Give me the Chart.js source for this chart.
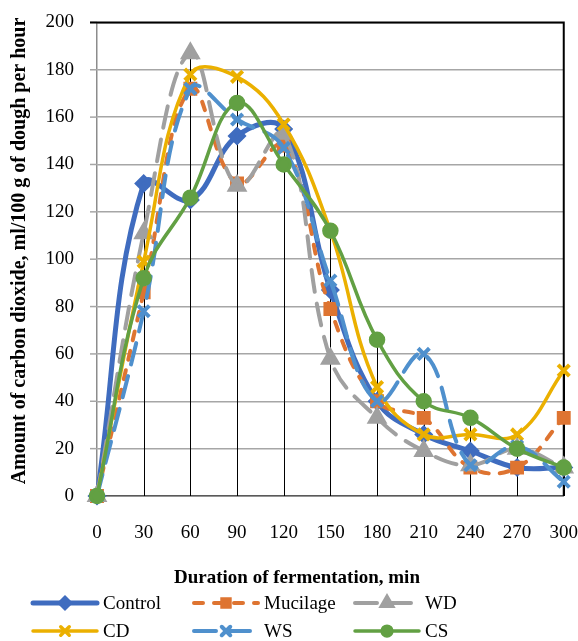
<!DOCTYPE html>
<html>
<head>
<meta charset="utf-8">
<script src="https://cdn.jsdelivr.net/npm/chart.js@4.4.1/dist/chart.umd.min.js"></script>
<style>
  html, body { margin: 0; padding: 0; background: #fff; }
  canvas { display: block; }
</style>
</head>
<body>
<canvas id="chart" width="578" height="641"></canvas>
<script>
  // fermentation time, min
  const times = [0, 30, 60, 90, 120, 150, 180, 210, 240, 270, 300];

  // CO2, ml/100 g dough per hour
  const control  = [0, 132, 125, 152, 155, 87, 40, 26, 19, 12, 12];
  const mucilage = [0, 86, 172, 132, 148, 79, 40, 33, 12, 12, 33];
  const wd       = [0, 111, 187, 131, 153, 58, 33, 19, 13, 20, 12];
  const cd       = [0, 99, 178, 177, 157, 112, 46, 26, 26, 26, 53];
  const ws       = [0, 78, 172, 159, 147, 91, 40, 60, 13, 21, 6];
  const cs       = [0, 92, 126, 166, 140, 112, 66, 40, 33, 20, 12];

  const xTitle = "Duration of fermentation, min";
  const yTitle = "Amount of carbon dioxide, ml/100 g of dough per hour";

  const FONT = "'Liberation Serif', 'Times New Roman', serif";
  const allSeries = [control, mucilage, wd, cd, ws, cs];
  const NONE = "rgba(0,0,0,0)";

  function series(label, values, color, opts) {
    return Object.assign({
      label: label,
      data: times.map((t, i) => ({ x: t, y: values[i] })),
      borderColor: color,
      backgroundColor: color,
      pointBackgroundColor: color,
      pointBorderColor: color,
      tension: 0.4,
      fill: false,
      borderCapStyle: "round",
      borderJoinStyle: "round",
      clip: 12,
    }, opts);
  }

  // y tick marks, drop lines, black plot frame
  const frame = {
    id: "frame",
    beforeDatasetsDraw(chart) {
      const { ctx, chartArea: a, scales } = chart;
      ctx.save();
      ctx.strokeStyle = "#A6A6A6";
      ctx.lineWidth = 1.5;
      scales.y.ticks.forEach((tk) => {
        const py = scales.y.getPixelForValue(tk.value);
        ctx.beginPath();
        ctx.moveTo(a.left - 7, py);
        ctx.lineTo(a.left, py);
        ctx.stroke();
      });
      ctx.strokeStyle = "#000";
      ctx.lineWidth = 1;
      times.forEach((t, i) => {
        const top = Math.max(...allSeries.map((s) => s[i]));
        if (top <= 0) return;
        const px = Math.round(scales.x.getPixelForValue(t)) + 0.5;
        ctx.beginPath();
        ctx.moveTo(px, scales.y.getPixelForValue(top));
        ctx.lineTo(px, a.bottom);
        ctx.stroke();
      });
      ctx.lineWidth = 2;
      ctx.beginPath();
      ctx.moveTo(a.left - 7, a.top);
      ctx.lineTo(a.right, a.top);
      ctx.lineTo(a.right, a.bottom);
      ctx.stroke();
      ctx.restore();
    },
  };

  // axis titles + legend in 3 columns x 2 rows
  const legendCols = [33, 194, 355];
  const legendRows = [38, 10]; // distance from canvas bottom
  const sheetLegend = {
    id: "sheetLegend",
    afterDraw(chart) {
      const ctx = chart.ctx;
      ctx.save();
      ctx.fillStyle = "#000";
      ctx.font = "bold 19px " + FONT;
      ctx.textAlign = "center";
      ctx.textBaseline = "middle";
      ctx.fillText(xTitle, 297, chart.height - 63);
      ctx.font = "bold 20px " + FONT;
      ctx.translate(20, 251);
      ctx.rotate(-Math.PI / 2);
      ctx.fillText(yTitle, 0, 0);
      ctx.restore();

      chart.data.datasets.forEach((ds, i) => {
        const x0 = legendCols[i % 3];
        const y0 = chart.height - legendRows[Math.floor(i / 3)];
        ctx.save();
        ctx.strokeStyle = ds.borderColor;
        ctx.lineWidth = ds.borderWidth;
        ctx.lineCap = "round";
        ctx.setLineDash(ds.borderDash || []);
        ctx.beginPath();
        ctx.moveTo(x0, y0);
        ctx.lineTo(x0 + 64, y0);
        ctx.stroke();
        ctx.setLineDash([]);
        ctx.fillStyle = ds.borderColor;
        ctx.strokeStyle = ds.borderColor;
        Chart.helpers.drawPoint(ctx, {
          pointStyle: ds.pointStyle,
          radius: ds.pointRadius * 0.75,
          borderWidth: ds.pointBorderWidth || 1,
          rotation: 0,
        }, x0 + 32, y0);
        ctx.fillStyle = "#000";
        ctx.font = "19px " + FONT;
        ctx.textBaseline = "middle";
        ctx.fillText(ds.label, x0 + 70, y0 + 1);
        ctx.restore();
      });
    },
  };

  new Chart(document.getElementById("chart"), {
    type: "line",
    data: {
      datasets: [
        series("Control", control, "#3F6CBF", { borderWidth: 5, pointStyle: "rectRot", pointRadius: 6, order: 6 }),
        series("Mucilage", mucilage, "#DE7431", { borderWidth: 4, borderDash: [9, 11], pointStyle: "rect", pointRadius: 7, order: 5 }),
        series("WD", wd, "#A0A0A0", { borderWidth: 4, borderDash: [22, 12], pointStyle: "triangle", pointRadius: 8, order: 4 }),
        series("CD", cd, "#EBB000", { borderWidth: 3.5, pointStyle: "crossRot", pointRadius: 8, pointBorderWidth: 4, order: 3 }),
        series("WS", ws, "#4F90CD", { borderWidth: 4, borderDash: [22, 12], pointStyle: "crossRot", pointRadius: 8, pointBorderWidth: 4, order: 2 }),
        series("CS", cs, "#62A043", { borderWidth: 3.5, pointStyle: "circle", pointRadius: 6.5, order: 1 }),
      ],
    },
    options: {
      responsive: false,
      animation: false,
      layout: { padding: { left: 0, right: 0, top: 22, bottom: 52 } },
      plugins: {
        legend: { display: false },
        tooltip: { enabled: false },
      },
      scales: {
        x: {
          type: "linear",
          min: 0,
          max: 300,
          ticks: { stepSize: 30, autoSkip: false, color: "#000", font: { size: 19, family: FONT }, padding: 0 },
          grid: { display: true, drawOnChartArea: false, drawTicks: true, tickLength: 26, color: NONE },
          border: { display: true, color: "#595959", width: 1.5 },
          afterFit(s) { s.height = 93; },
        },
        y: {
          min: 0,
          max: 200,
          ticks: { stepSize: 20, color: "#000", font: { size: 19, family: FONT }, padding: 11 },
          grid: { color: "#A6A6A6", lineWidth: 1.5, tickLength: 12, tickColor: NONE },
          border: { display: true, color: "#8C8C8C", width: 1.5 },
          afterFit(s) { s.width = 97; },
        },
      },
    },
    plugins: [frame, sheetLegend],
  });
</script>
</body>
</html>
